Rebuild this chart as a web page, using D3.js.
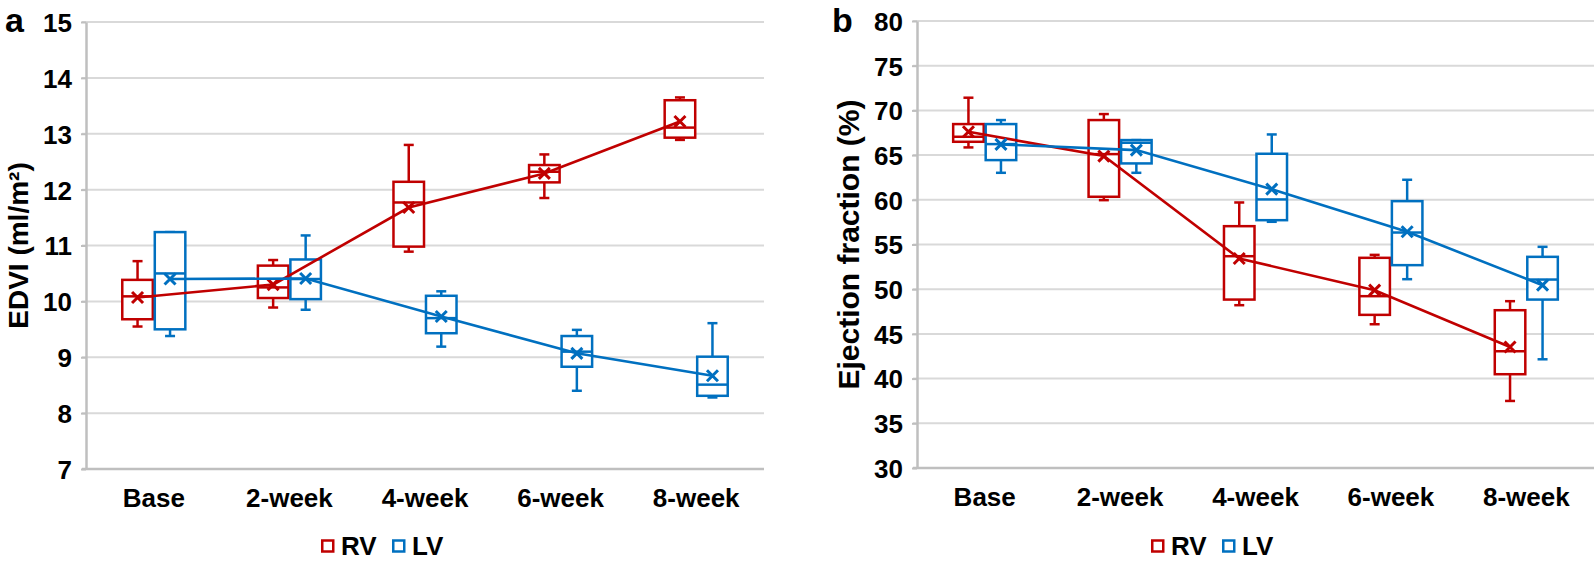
<!DOCTYPE html>
<html>
<head>
<meta charset="utf-8">
<script src="https://cdn.jsdelivr.net/npm/d3@7"></script>
<style>
  html, body { margin: 0; padding: 0; background: #fff; }
  svg { display: block; font-family: "Liberation Sans", Arial, sans-serif; font-weight: bold; }
</style>
</head>
<body>
<svg id="chart" width="1594" height="562"></svg>
<script>
// ---- data ----
const categories = ["Base", "2-week", "4-week", "6-week", "8-week"];
const seriesNames = ["RV", "LV"];
// each entry: [min, q1, median, q3, max, mean]
const edviRV = [
  [9.55, 9.68, 10.09, 10.385, 10.72, 10.07],
  [9.89, 10.06, 10.25, 10.64, 10.74, 10.30],
  [10.89, 10.98, 11.77, 12.14, 12.80, 11.68],
  [11.85, 12.13, 12.32, 12.44, 12.63, 12.29],
  [12.89, 12.93, 13.11, 13.60, 13.65, 13.22]
];
const edviLV = [
  [9.38, 9.50, 10.50, 11.24, 11.24, 10.40],
  [9.85, 10.04, 10.40, 10.75, 11.18, 10.41],
  [9.19, 9.43, 9.70, 10.10, 10.18, 9.73],
  [8.40, 8.83, 9.10, 9.38, 9.49, 9.07],
  [8.28, 8.31, 8.51, 9.01, 9.61, 8.67]
];
const efRV = [
  [65.86, 66.49, 67.05, 68.47, 71.42, 67.61],
  [59.96, 60.34, 65.11, 68.92, 69.59, 64.89],
  [48.21, 48.84, 53.69, 57.05, 59.70, 53.43],
  [46.08, 47.13, 49.22, 53.51, 53.84, 49.89],
  [37.50, 40.49, 43.06, 47.65, 48.66, 43.54]
];
const efLV = [
  [63.02, 64.44, 66.23, 68.47, 68.92, 66.20],
  [63.02, 64.07, 66.38, 66.68, 66.68, 65.56],
  [57.54, 57.72, 60.04, 65.15, 67.31, 61.19],
  [51.12, 52.69, 56.34, 59.85, 62.24, 56.42],
  [42.16, 48.84, 51.08, 53.62, 54.74, 50.45]
];
const edviTicks = [7, 8, 9, 10, 11, 12, 13, 14, 15];
const efTicks = [30, 35, 40, 45, 50, 55, 60, 65, 70, 75, 80];

const colors = { RV: "#C00000", LV: "#0070C0" };
const svg = d3.select("#chart");

function panel(opts) {
  const g = svg.append("g");
  const x = d3.scaleBand().domain(categories).range([opts.x0, opts.x1]).padding(0);
  const y = d3.scaleLinear().domain(opts.domain).range([opts.yBottom, opts.yTop]);
  const bw = x.bandwidth();
  const sub = d3.scaleBand().domain(seriesNames).range([bw / 2 - 33, bw / 2 + 33]).padding(0.03);
  const boxW = sub.bandwidth() - 1;

  // gridlines
  g.append("g").selectAll("line").data(opts.ticks.slice(1)).join("line")
    .attr("x1", opts.x0 - 4).attr("x2", opts.x1)
    .attr("y1", d => y(d)).attr("y2", d => y(d))
    .attr("stroke", "#d9d9d9").attr("stroke-width", 2);

  // y axis
  const ya = g.append("g").attr("transform", `translate(${opts.x0},0)`)
    .call(d3.axisLeft(y).tickValues(opts.ticks).tickSize(5).tickPadding(9).tickSizeOuter(0));
  ya.select(".domain").attr("stroke", "#bfbfbf").attr("stroke-width", 2.5);
  ya.selectAll(".tick line").attr("stroke", "#bfbfbf").attr("stroke-width", 2);
  ya.selectAll(".tick text").attr("fill", "#000").style("font-size", "26px").style("font-weight", "bold")
    .style("font-family", "'Liberation Sans', Arial, sans-serif").attr("dy", "0.36em");

  // x axis
  const xa = g.append("g").attr("transform", `translate(0,${opts.yBottom})`)
    .call(d3.axisBottom(x).tickSize(0).tickSizeOuter(0));
  xa.select(".domain").attr("stroke", "#bfbfbf").attr("stroke-width", 2.5)
    .attr("d", `M${opts.x0 - 4},0H${opts.x1}`);
  xa.selectAll(".tick text").attr("fill", "#000").attr("dy", null).attr("y", 38)
    .style("font-size", "26px").style("font-weight", "bold")
    .style("font-family", "'Liberation Sans', Arial, sans-serif");

  // boxes
  const sets = [{ name: "RV", data: opts.rv }, { name: "LV", data: opts.lv }];
  sets.forEach(s => {
    const c = colors[s.name];
    const sg = g.append("g");
    const items = s.data.map((d, i) => ({ cat: categories[i], v: d }));
    const cx = d => x(d.cat) + sub(s.name) + sub.bandwidth() / 2;
    const grp = sg.selectAll("g").data(items).join("g");
    // whiskers
    grp.append("line").attr("x1", cx).attr("x2", cx)
      .attr("y1", d => y(d.v[4])).attr("y2", d => y(d.v[3]))
      .attr("stroke", c).attr("stroke-width", 2.5);
    grp.append("line").attr("x1", cx).attr("x2", cx)
      .attr("y1", d => y(d.v[0])).attr("y2", d => y(d.v[1]))
      .attr("stroke", c).attr("stroke-width", 2.5);
    grp.append("line").attr("x1", d => cx(d) - 5).attr("x2", d => cx(d) + 5)
      .attr("y1", d => y(d.v[4])).attr("y2", d => y(d.v[4]))
      .attr("stroke", c).attr("stroke-width", 2.5);
    grp.append("line").attr("x1", d => cx(d) - 5).attr("x2", d => cx(d) + 5)
      .attr("y1", d => y(d.v[0])).attr("y2", d => y(d.v[0]))
      .attr("stroke", c).attr("stroke-width", 2.5);
    // box
    grp.append("rect").attr("x", d => cx(d) - boxW / 2).attr("width", boxW)
      .attr("y", d => y(d.v[3])).attr("height", d => y(d.v[1]) - y(d.v[3]))
      .attr("fill", "#fff").attr("stroke", c).attr("stroke-width", 2.5);
    // median
    grp.append("line").attr("x1", d => cx(d) - boxW / 2).attr("x2", d => cx(d) + boxW / 2)
      .attr("y1", d => y(d.v[2])).attr("y2", d => y(d.v[2]))
      .attr("stroke", c).attr("stroke-width", 2.5);
    s.items = items; s.cx = cx;
  });
  // mean lines and markers
  sets.forEach(s => {
    const c = colors[s.name];
    const line = d3.line().x(d => s.cx(d)).y(d => y(d.v[5]));
    g.append("path").datum(s.items).attr("d", line)
      .attr("fill", "none").attr("stroke", c).attr("stroke-width", 2.6);
    g.append("g").selectAll("path").data(s.items).join("path")
      .attr("d", d => {
        const px = s.cx(d), py = y(d.v[5]), r = 5.5;
        return `M${px - r},${py - r}L${px + r},${py + r}M${px - r},${py + r}L${px + r},${py - r}`;
      })
      .attr("stroke", c).attr("stroke-width", 3).attr("fill", "none");
  });

  // y title
  g.append("text").attr("transform", `translate(${opts.titleX},${(opts.yTop + opts.yBottom) / 2}) rotate(-90)`)
    .attr("text-anchor", "middle").attr("dominant-baseline", "central")
    .style("font-size", opts.titleSize + "px").attr("fill", "#000").text(opts.title);

  // panel letter
  g.append("text").attr("x", opts.letterX).attr("y", 32).style("font-size", "34px")
    .attr("fill", "#000").text(opts.letter);

  // legend
  const lg = g.append("g").attr("transform", `translate(${opts.legendX},546)`);
  const entries = lg.selectAll("g").data(seriesNames).join("g")
    .attr("transform", (d, i) => `translate(${i * 71},0)`);
  entries.append("rect").attr("x", 1.25).attr("y", -5.5).attr("width", 11).attr("height", 11)
    .attr("fill", "#fff").attr("stroke", d => colors[d]).attr("stroke-width", 2.5);
  entries.append("text").attr("x", 20).attr("y", 9).style("font-size", "26px")
    .attr("fill", "#000").text(d => d);
}

panel({
  x0: 86, x1: 764, yTop: 22, yBottom: 469, domain: [7, 15], ticks: edviTicks,
  rv: edviRV, lv: edviLV, title: "EDVI (ml/m²)", titleX: 18, titleSize: 28,
  letter: "a", letterX: 5, legendX: 321
});
panel({
  x0: 917, x1: 1594, yTop: 21, yBottom: 468, domain: [30, 80], ticks: efTicks,
  rv: efRV, lv: efLV, title: "Ejection fraction (%)", titleX: 848, titleSize: 30,
  letter: "b", letterX: 832, legendX: 1151
});
</script>
</body>
</html>
